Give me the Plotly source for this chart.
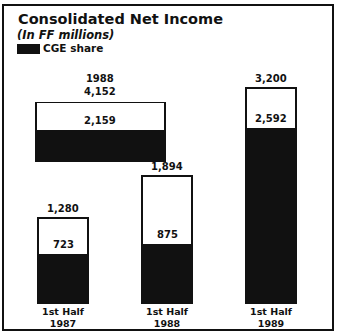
import plotly.graph_objects as go

# Half-year consolidated net income (FF millions) and CGE's share of it
periods = ["1st Half<br>1987", "1st Half<br>1988", "1st Half<br>1989"]
net_income = [1280, 1894, 3200]
cge_share = [723, 875, 2592]

# Full-year 1988 figure shown as a separate box
full_year_label = "1988"
full_year_income = 4152
full_year_share = 2159

W, H = 343, 333
FONT = "DejaVu Sans"
INK = "#111111"

def fmt(v):
    return f"{v:,}"

def px_x(p):
    return p / W

def px_y(p):
    # pixel offset from the top -> paper fraction from the bottom
    return (H - p) / H

remainder = [t - s for t, s in zip(net_income, cge_share)]
xpos = list(range(len(periods)))

fig = go.Figure()

bar_w = 0.48
fig.add_trace(go.Bar(
    x=xpos, y=cge_share, width=bar_w, name="CGE share",
    marker=dict(color=INK, line=dict(color=INK, width=2)),
    hoverinfo="skip",
))
fig.add_trace(go.Bar(
    x=xpos, y=remainder, width=bar_w, name="Other",
    marker=dict(color="white", line=dict(color=INK, width=2)),
    hoverinfo="skip",
))

# Full-year box on its own y axis
box_x, box_w = 0.36, 1.24
fig.add_trace(go.Bar(
    x=[box_x], y=[full_year_share], width=box_w, yaxis="y2",
    marker=dict(color=INK, line=dict(color=INK, width=2)),
    hoverinfo="skip",
))
fig.add_trace(go.Bar(
    x=[box_x], y=[full_year_income - full_year_share], width=box_w, yaxis="y2",
    marker=dict(color="white", line=dict(color=INK, width=2)),
    hoverinfo="skip",
))

label_font = dict(family=FONT, size=10, color=INK, weight="bold")
annotations = []
for x, t, s in zip(xpos, net_income, cge_share):
    annotations.append(dict(x=x, y=t, xref="x", yref="y", text=fmt(t),
                            showarrow=False, yanchor="bottom", yshift=2,
                            font=label_font))
    annotations.append(dict(x=x, y=s, xref="x", yref="y", text=fmt(s),
                            showarrow=False, yanchor="bottom", yshift=3,
                            font=label_font))
annotations.append(dict(x=box_x, y=full_year_income, xref="x", yref="y2",
                        text=f"{full_year_label}<br>{fmt(full_year_income)}",
                        showarrow=False, yanchor="bottom", yshift=3,
                        font=label_font))
annotations.append(dict(x=box_x, y=full_year_share, xref="x", yref="y2",
                        text=fmt(full_year_share), showarrow=False,
                        yanchor="bottom", yshift=3, font=label_font))

# Heading, unit note and legend key
annotations.append(dict(x=px_x(17), y=px_y(10), xref="paper", yref="paper",
                        text="Consolidated Net Income", showarrow=False,
                        xanchor="left", yanchor="top", borderpad=0,
                        font=dict(family=FONT, size=14.5, color=INK, weight="bold")))
annotations.append(dict(x=px_x(16), y=px_y(27), xref="paper", yref="paper",
                        text="<i>(In FF millions)</i>", showarrow=False,
                        xanchor="left", yanchor="top", borderpad=0,
                        font=dict(family=FONT, size=11.5, color=INK, weight="bold")))
annotations.append(dict(x=px_x(42), y=px_y(41), xref="paper", yref="paper",
                        text="CGE share", showarrow=False,
                        xanchor="left", yanchor="top", borderpad=0,
                        font=dict(family=FONT, size=10.5, color=INK, weight="bold")))

shapes = [
    dict(type="rect", xref="paper", yref="paper",
         x0=px_x(3), x1=px_x(333), y0=px_y(330), y1=px_y(5),
         line=dict(color=INK, width=2), fillcolor="rgba(0,0,0,0)"),
    dict(type="rect", xref="paper", yref="paper",
         x0=px_x(17), x1=px_x(40), y0=px_y(54), y1=px_y(44),
         line=dict(width=0), fillcolor=INK),
]

# Vertical scale of the half-year bars
PX_PER_UNIT = 0.0675
base_px, top_px = 304, 60
y_top = (base_px - top_px) / PX_PER_UNIT

fig.update_layout(
    width=W, height=H,
    margin=dict(l=0, r=0, t=0, b=0),
    paper_bgcolor="white", plot_bgcolor="rgba(0,0,0,0)",
    barmode="stack", bargap=0, showlegend=False,
    xaxis=dict(domain=[px_x(11), px_x(323)], range=[-0.5, 2.5],
               tickvals=xpos, ticktext=periods, showgrid=False,
               zeroline=False, showline=False, ticks="",
               tickfont=dict(family=FONT, size=9.5, color=INK, weight="bold"),
               ticklabelstandoff=0),
    yaxis=dict(domain=[px_y(base_px), px_y(top_px)], range=[0, y_top],
               visible=False),
    yaxis2=dict(domain=[px_y(162), px_y(102)], range=[0, full_year_income],
                anchor="x", visible=False),
    annotations=annotations,
    shapes=shapes,
)

fig.write_html("out.html")
